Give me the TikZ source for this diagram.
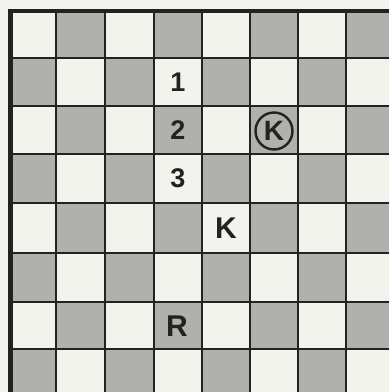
\documentclass[tikz,border=0pt]{standalone}
\usepackage{fontspec}
\setmainfont{Liberation Sans}
\definecolor{paper}{RGB}{243,243,237}
\definecolor{sq}{RGB}{176,176,172}
\definecolor{ink}{RGB}{34,34,34}
\tikzset{
  digit/.style={text=ink, font=\bfseries\fontsize{27}{27}\selectfont, inner sep=0pt},
  piece/.style={text=ink, font=\bfseries\fontsize{30}{30}\selectfont, inner sep=0pt},
  gridline/.style={draw=ink, line width=2.2pt},
  borderline/.style={draw=ink, line width=4.5pt},
  ringed/.style={circle, draw=ink, line width=2.4pt, minimum size=37pt, inner sep=0pt, text=ink, font=\bfseries\fontsize{28}{28}\selectfont}
}
\begin{document}
\begin{tikzpicture}[x=1pt,y=-1pt]
\useasboundingbox (0,0) rectangle (389,392);
\fill[paper] (0,0) rectangle (389,392);
% squares
\foreach \c/\xa/\xb in {1/10/56,2/56/105,3/105/154,4/154/202,5/202/250,6/250/298,7/298/346,8/346/394}{
  \foreach \r/\ya/\yb in {1/11/58,2/58/106,3/106/154,4/154/203,5/203/253,6/253/302,7/302/349,8/349/397}{
    \ifodd\numexpr\r+\c\relax
      \fill[sq] (\xa,\ya) rectangle (\xb,\yb);
    \fi
  }
}
% grid
\foreach \x in {56,105,154,202,250,298,346}{
  \draw[gridline] (\x,11) -- (\x,397);
}
\foreach \y in {58,106,154,203,253,302,349}{
  \draw[gridline] (10,\y) -- (394,\y);
}
\draw[borderline] (10.5,397) -- (10.5,11) -- (394,11);
% pieces
\node[digit] (n1) at (178,82) {1};
\node[digit] (n2) at (178,130) {2};
\node[digit] (n3) at (178,178.5) {3};
\node[ringed] (bk) at (274,131) {K};
\node[piece] (wk) at (226,228) {K};
\node[piece] (wr) at (177,326) {R};
\end{tikzpicture}
\end{document}
